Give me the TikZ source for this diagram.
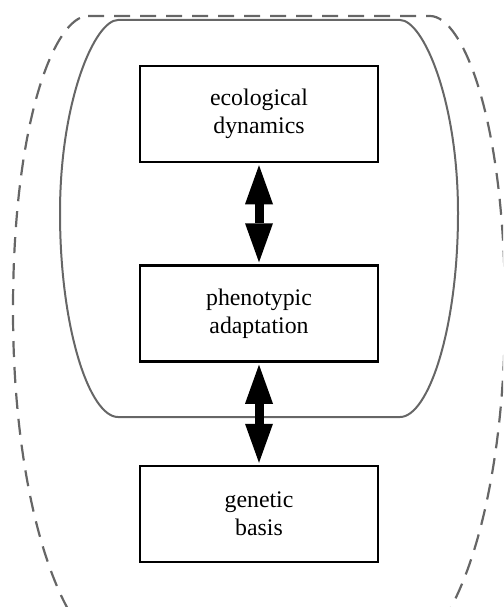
\documentclass[tikz,border=0pt]{standalone}
\usepackage{fontspec}
\setmainfont{Liberation Serif}
\usetikzlibrary{arrows.meta}
\tikzset{
  procbox/.style={draw=black, line width=2.5pt, fill=white, minimum width=238pt, minimum height=96pt, inner sep=0pt, align=center, font=\fontsize{23.8}{28}\selectfont},
  bigarrow/.style={line width=9pt, {Triangle[width=28pt,length=39pt,line width=0pt]}-{Triangle[width=28pt,length=39pt,line width=0pt]}, shorten <=2pt, shorten >=2pt},
  innerhull/.style={draw=black!60, line width=2pt},
  outerhull/.style={draw=black!60, line width=2.2pt, dash pattern=on 16pt off 10pt}
}
\begin{document}
\begin{tikzpicture}[x=1pt, y=-1pt]
\useasboundingbox (0,0) rectangle (503,607);
\begin{scope}
\clip (0,0) rectangle (503,607);
\draw[outerhull] (88,16) -- (430,16) .. controls (463,16) and (505,120) .. (505,310)
  .. controls (505,480) and (468,600) .. (428,640) -- (90,640)
  .. controls (50,600) and (13,480) .. (13,310)
  .. controls (13,120) and (55,16) .. (88,16) -- cycle;
\end{scope}
\draw[innerhull] (118,20) -- (400,20) .. controls (423,20) and (458,100) .. (458,213)
  .. controls (458,330) and (428,417) .. (400,417) -- (118,417)
  .. controls (90,417) and (60,330) .. (60,213)
  .. controls (60,100) and (95,20) .. (118,20) -- cycle;
\node[procbox] (eco) at (259,114) {ecological\\dynamics};
\node[procbox] (phe) at (259,313.5) {phenotypic\\adaptation};
\node[procbox] (gen) at (259,514) {genetic\\basis};
\draw[bigarrow] (eco.south) -- (phe.north);
\draw[bigarrow] (phe.south) -- (gen.north);
\end{tikzpicture}
\end{document}
